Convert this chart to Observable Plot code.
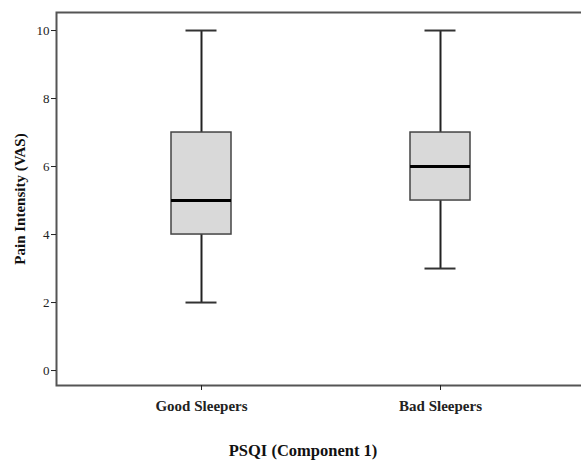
<!DOCTYPE html>
<html>
<head>
<meta charset="utf-8">
<script src="https://cdn.jsdelivr.net/npm/d3@7"></script>
<script src="https://cdn.jsdelivr.net/npm/@observablehq/plot@0.6"></script>
<style>
  html, body { margin: 0; padding: 0; background: #fff; overflow: hidden; }
  #chart svg { display: block; max-width: none !important; width: 590px !important; height: 468px !important; }
</style>
</head>
<body>
<div id="chart"></div>
<script>
const groups = ["Good Sleepers", "Bad Sleepers"];
const mins = [2, 3];
const q1s = [4, 5];
const medians = [5, 6];
const q3s = [7, 7];
const maxs = [10, 10];
const yTicks = [0, 2, 4, 6, 8, 10];
const xTitle = "PSQI (Component 1)";
const yTitle = "Pain Intensity (VAS)";

const rows = groups.map((g, i) => ({
  group: g, min: mins[i], q1: q1s[i], median: medians[i], q3: q3s[i], max: maxs[i]
}));

const chart = Plot.plot({
  width: 590,
  height: 468,
  marginLeft: 56,
  marginRight: 5,
  marginTop: 12,
  marginBottom: 83,
  style: { fontFamily: "'Liberation Serif', 'DejaVu Serif', serif", color: "#222", background: "#fff" },
  x: { type: "band", domain: groups, paddingInner: 0.747, paddingOuter: 0.48, align: 0.5 },
  y: { domain: [-0.44, 10.53] },
  marks: [
    Plot.ruleX(rows, { x: "group", y1: "min", y2: "q1", stroke: "#222", strokeWidth: 2 }),
    Plot.ruleX(rows, { x: "group", y1: "q3", y2: "max", stroke: "#222", strokeWidth: 2 }),
    Plot.tickY(rows, { x: "group", y: "min", insetLeft: 14.5, insetRight: 14.5, stroke: "#333", strokeWidth: 2 }),
    Plot.tickY(rows, { x: "group", y: "max", insetLeft: 14.5, insetRight: 14.5, stroke: "#333", strokeWidth: 2 }),
    Plot.barY(rows, { x: "group", y1: "q1", y2: "q3", fill: "#d9d9d9", stroke: "#444", strokeWidth: 1.5 }),
    Plot.tickY(rows, { x: "group", y: "median", stroke: "#000", strokeWidth: 3 }),
    Plot.frame({ stroke: "#555", strokeWidth: 2 }),
    Plot.axisY({ ticks: yTicks, tickSize: 5, tickPadding: 2, fontSize: 13, label: null, tickFormat: d => String(d) }),
    Plot.axisX({ tickSize: 5, tickPadding: 10, fontSize: 15, fontWeight: "bold", label: null }),
    Plot.text([yTitle], { text: d => d, frameAnchor: "left", textAnchor: "middle", dx: -36, rotate: -90, fontSize: 15, fontWeight: "bold", fill: "#111" }),
    Plot.text([xTitle], { text: d => d, frameAnchor: "bottom", textAnchor: "middle", dx: -18, dy: 70, fontSize: 16.5, fontWeight: "bold", fill: "#111" })
  ]
});
document.getElementById("chart").appendChild(chart);
</script>
</body>
</html>
